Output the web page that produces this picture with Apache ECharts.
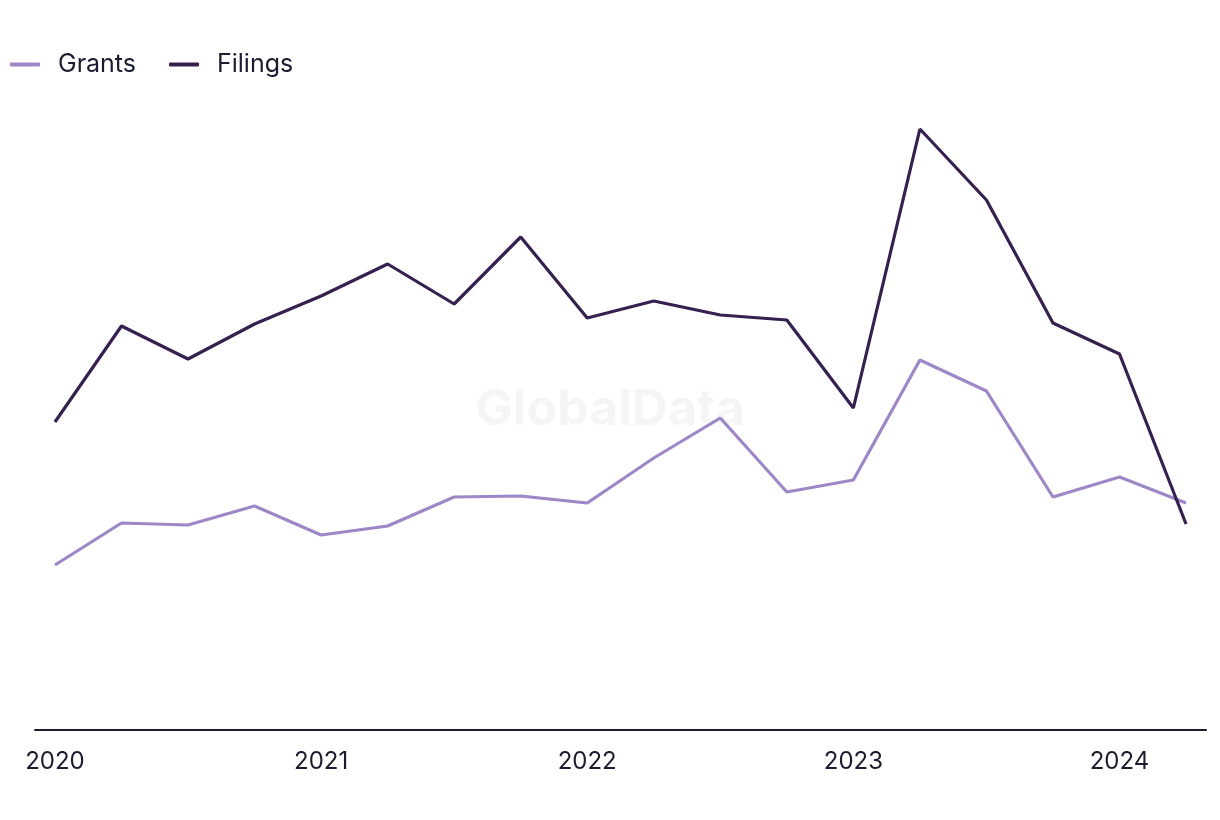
<!DOCTYPE html>
<html><head><meta charset="utf-8">
<script src="https://cdn.jsdelivr.net/npm/echarts@6/dist/echarts.min.js"></script>
<style>html,body{margin:0;padding:0;background:#fff}#c{width:1220px;height:820px}</style>
</head><body><div id="c"></div>
<script>
const quarters = ['2020 Q1','2020 Q2','2020 Q3','2020 Q4','2021 Q1','2021 Q2','2021 Q3','2021 Q4','2022 Q1','2022 Q2','2022 Q3','2022 Q4','2023 Q1','2023 Q2','2023 Q3','2023 Q4','2024 Q1','2024 Q2'];
const grants  = [165,207,205,224,195,204,233,234,227,272,312,238,250,370,339,233,253,227];
const filings = [308,404,371,406,434,466,426,493,412,429,415,410,322,601,530,407,376,206];
const yearTicks = [0,4,8,12,16];
const yearLabels = {0:'2020',4:'2021',8:'2022',12:'2023',16:'2024'};

const chart = echarts.init(document.getElementById('c'));
const font = 'Inter, "Noto Sans", sans-serif';
chart.setOption({
  animation:false,
  textStyle:{fontFamily:font},
  legend:{left:5,top:47,itemWidth:30,itemHeight:4,itemGap:33,
    textStyle:{fontSize:25,color:'#1c1c30',fontFamily:font,padding:[0,0,0,13]},
    data:[{name:'Grants',icon:'roundRect'},{name:'Filings',icon:'roundRect'}]},
  graphic:[{type:'text',left:'center',top:385,style:{text:'GlobalData',fontSize:50,fontWeight:'bold',fill:'#f5f5f5',fontFamily:font}}],
  grid:{left:35,right:14,top:100,bottom:90},
  xAxis:{type:'value',min:-0.3,max:17.3,
    axisLine:{show:true,lineStyle:{color:'#1c1c30',width:2}},
    axisTick:{show:false},splitLine:{show:false},
    axisLabel:{customValues:yearTicks,formatter:v=>yearLabels[v]||'',fontSize:24,color:'#1c1c30',margin:20,fontFamily:font}},
  yAxis:{type:'value',min:0,max:630,show:false,splitLine:{show:false}},
  series:[
    {name:'Grants',type:'line',data:grants.map((v,i)=>[i,v]),showSymbol:false,lineStyle:{width:3.2,color:'#9d87c6'},itemStyle:{color:'#9d87c6'}},
    {name:'Filings',type:'line',data:filings.map((v,i)=>[i,v]),showSymbol:false,lineStyle:{width:3.2,color:'#35204f'},itemStyle:{color:'#35204f'}}
  ]
});
</script></body></html>
